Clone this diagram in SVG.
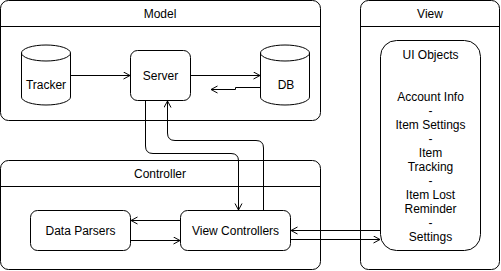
<svg xmlns="http://www.w3.org/2000/svg" width="501" height="271" viewBox="0 0 501 271">
  <defs>
    <marker id="open" markerUnits="userSpaceOnUse" markerWidth="10" markerHeight="10" refX="7" refY="4" orient="auto">
      <path d="M0.5,0.5 L7,4 L0.5,7.5" fill="none" stroke="#000" stroke-width="1"/>
    </marker>
  </defs>
  <style>
    .box { fill: #fff; stroke: #000; stroke-width: 1; }
    .line { fill: none; stroke: #000; stroke-width: 1; }
    .edge { fill: none; stroke: #000; stroke-width: 1; marker-end: url(#open); }
    text { font-family: "Liberation Sans", Arial, Helvetica, sans-serif; font-size: 12px; fill: #000; text-anchor: middle; }
  </style>
  <rect width="501" height="271" fill="#fff"/>

  <!-- Model swimlane -->
  <g id="model">
    <rect class="box" x="0.5" y="0.5" width="320" height="120" rx="8"/>
    <line class="line" x1="0.5" y1="26.5" x2="320.5" y2="26.5"/>
    <text x="160" y="18">Model</text>
  </g>

  <!-- Controller swimlane -->
  <g id="controller">
    <rect class="box" x="0.5" y="160.5" width="320" height="109" rx="8"/>
    <line class="line" x1="0.5" y1="186.5" x2="320.5" y2="186.5"/>
    <text x="160" y="178">Controller</text>
  </g>

  <!-- View swimlane -->
  <g id="view">
    <rect class="box" x="360.5" y="0.5" width="139" height="269" rx="8"/>
    <line class="line" x1="360.5" y1="26.5" x2="499.5" y2="26.5"/>
    <text x="430" y="18">View</text>
  </g>

  <!-- Model contents -->
  <g id="tracker">
    <path class="box" d="M21.5,53 A24.5,8 0 0 1 70.5,53 V97 A24.5,8 0 0 1 21.5,97 Z"/>
    <path class="line" d="M21.5,53 A24.5,8 0 0 0 70.5,53"/>
    <text x="46" y="89">Tracker</text>
  </g>
  <g id="server">
    <rect class="box" x="130.5" y="50.5" width="60" height="50" rx="7"/>
    <text x="160.5" y="80">Server</text>
  </g>
  <g id="db">
    <path class="box" d="M260.5,53 A24.5,8 0 0 1 309.5,53 V97 A24.5,8 0 0 1 260.5,97 Z"/>
    <path class="line" d="M260.5,53 A24.5,8 0 0 0 309.5,53"/>
    <text x="286" y="89">DB</text>
  </g>

  <!-- Controller contents -->
  <g id="data-parsers">
    <rect class="box" x="30.5" y="210.5" width="100" height="40" rx="7"/>
    <text x="80.5" y="235">Data Parsers</text>
  </g>
  <g id="view-controllers">
    <rect class="box" x="180.5" y="210.5" width="110" height="40" rx="7"/>
    <text x="235.5" y="235">View Controllers</text>
  </g>

  <!-- View contents -->
  <g id="ui-objects">
    <rect class="box" x="380.5" y="40.5" width="100" height="210" rx="16"/>
    <text x="430.5" y="59">UI Objects</text>
    <text x="430.5" y="101">Account Info</text>
    <text x="430.5" y="115">-</text>
    <text x="430.5" y="129">Item Settings</text>
    <text x="430.5" y="143">-</text>
    <text x="430.5" y="157">Item</text>
    <text x="430.5" y="171">Tracking</text>
    <text x="430.5" y="185">-</text>
    <text x="430.5" y="199">Item Lost</text>
    <text x="430.5" y="213">Reminder</text>
    <text x="430.5" y="227">-</text>
    <text x="430.5" y="241">Settings</text>
  </g>

  <!-- Connectors -->
  <g id="connectors">
    <path class="edge" d="M70.5,75.5 H130"/>
    <path class="edge" d="M190.5,75.5 H260"/>
    <path class="edge" d="M260.5,87.5 H235.5 V89.5 H211"/>
    <path class="edge" d="M145.5,100.5 V146 Q145.5,153.5 153,153.5 H231 Q238.5,153.5 238.5,161 V210"/>
    <path class="edge" d="M263.5,210.5 V148 Q263.5,140.5 256,140.5 H175 Q167.5,140.5 167.5,133 V101"/>
    <path class="edge" d="M180.5,220.5 H131"/>
    <path class="edge" d="M130.5,240.5 H180"/>
    <path class="edge" d="M380.5,230.5 H291"/>
    <path class="edge" d="M290.5,239.5 H380"/>
  </g>
</svg>
